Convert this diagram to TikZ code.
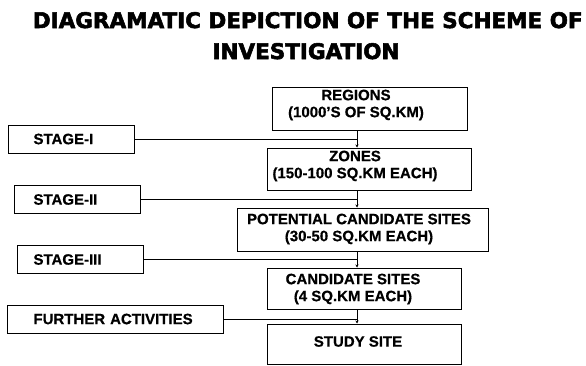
\documentclass[tikz,border=0pt]{standalone}
\usepackage{fontspec}
\setmainfont{Liberation Sans}[BoldFeatures={FakeBold=0.6}]
\newfontfamily\headfont{DejaVu Sans}[BoldFeatures={FakeBold=2.5}]
\usetikzlibrary{arrows.meta}

\begin{document}
\begin{tikzpicture}
        [
          x=1pt, y=-1pt,
          heading/.style={anchor=base, inner sep=0pt, font=\headfont\bfseries\fontsize{21.5}{24}\selectfont},
          box/.style={draw, line width=1pt, inner sep=0pt},
          boxtext/.style={align=center, inner sep=0pt, font=\bfseries\fontsize{15}{17}\selectfont},
          stagebox/.style={draw, line width=1pt, anchor=west, inner xsep=0pt, inner ysep=0pt,
            align=left, minimum height=28pt, font=\bfseries\fontsize{15}{17}\selectfont},
          link/.style={line width=0.9pt},
          flow/.style={link, -{Stealth[length=3pt,width=3pt]}}
        ]
        \useasboundingbox (0,0) rectangle (586,365);
        % title
        \node [heading] (head1) at (307.8,28) {DIAGRAMATIC DEPICTION OF THE SCHEME OF};
        \node [heading] (head2) at (306,59) {INVESTIGATION};
        % scheme boxes
        \node [box, minimum width=195pt, minimum height=43pt] (regions) at (369.5,108.5) {};
        \node [box, minimum width=204pt, minimum height=42pt] (zones) at (369,169) {};
        \node [box, minimum width=251pt, minimum height=43pt] (potential) at (362.5,229.5) {};
        \node [box, minimum width=194pt, minimum height=41pt] (candidate) at (364,288.5) {};
        \node [box, minimum width=194pt, minimum height=40pt] (study) at (364,344) {};
        \node [boxtext] (regionsT) at (356,105) {REGIONS\\(1000'S OF SQ.KM)};
        \node [boxtext] (zonesT) at (355,166) {ZONES\\(150-100 SQ.KM EACH)};
        \node [boxtext] (potentialT) at (359,229) {POTENTIAL CANDIDATE SITES\\(30-50 SQ.KM EACH)};
        \node [boxtext] (candidateT) at (353,289) {CANDIDATE SITES\\(4 SQ.KM EACH)};
        \node [boxtext] (studyT) at (358,341.5) {STUDY SITE};
        % stage boxes
        \node [stagebox, text width=126pt] (stage1) at (8,139) {\hspace*{25pt}STAGE-I};
        \node [stagebox, text width=126pt] (stage2) at (14,199.5) {\hspace*{19pt}STAGE-II};
        \node [stagebox, text width=126pt] (stage3) at (17,259.5) {\hspace*{16pt}STAGE-III};
        \node [stagebox, text width=216pt] (further) at (7,319) {\hspace*{26pt}FURTHER ACTIVITIES};
        % flow down the spine
        \coordinate (spine) at (357,0);
        \draw [flow] (regions.south -| spine) -- (zones.north -| spine);
        \draw [flow] (zones.south -| spine) -- (potential.north -| spine);
        \draw [flow] (potential.south -| spine) -- (candidate.north -| spine);
        \draw [flow] (candidate.south -| spine) -- (study.north -| spine);
        % stage links
        \draw [link] (stage1.east) -- (stage1.east -| spine);
        \draw [link] (stage2.east) -- (stage2.east -| spine);
        \draw [link] (stage3.east) -- (stage3.east -| spine);
        \draw [link] (further.east) -- (further.east -| spine);
\end{tikzpicture}
\end{document}
